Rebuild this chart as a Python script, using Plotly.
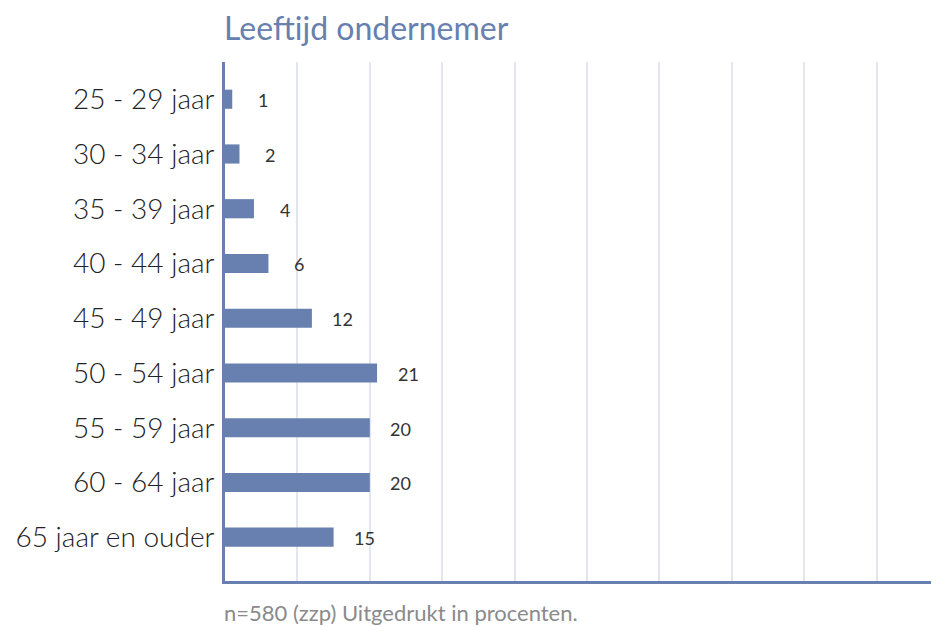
import plotly.graph_objects as go

# ── data ─────────────────────────────────────────────
leeftijd = [
    "25 - 29 jaar", "30 - 34 jaar", "35 - 39 jaar", "40 - 44 jaar",
    "45 - 49 jaar", "50 - 54 jaar", "55 - 59 jaar", "60 - 64 jaar",
    "65 jaar en ouder",
]
procent = [1, 2, 4, 6, 12, 21, 20, 20, 15]

blauw = "#6780b0"

fig = go.Figure(go.Bar(
    x=procent,
    y=leeftijd,
    orientation="h",
    width=0.35,
    marker=dict(color=blauw, line=dict(width=0)),
    hoverinfo="x+y",
))

# value labels next to the bars
for v, c in zip(procent, leeftijd):
    fig.add_annotation(
        x=v, y=c, text=str(v), showarrow=False,
        xanchor="center", xshift=31, yshift=-1,
        font=dict(family="Lato", size=18, color="#333333"),
    )

fig.add_annotation(
    text="Leeftijd ondernemer", xref="paper", yref="paper",
    x=0, y=1, yshift=35, xshift=-3, xanchor="left", yanchor="middle",
    showarrow=False,
    font=dict(family="Lato", size=32, color=blauw),
)
fig.add_annotation(
    text="n=580 (zzp) Uitgedrukt in procenten.", xref="paper", yref="paper",
    x=0, y=0, yshift=-31, xshift=-3, xanchor="left", yanchor="middle",
    showarrow=False,
    font=dict(family="Lato", size=22, color="#8a8a8a"),
)

# page body has an 8px margin, so the figure is a bit smaller than the window
fig.update_layout(
    width=931, height=619,
    margin=dict(l=217, r=0, t=54, b=46),
    paper_bgcolor="white", plot_bgcolor="white",
    showlegend=False,
    font=dict(family="Lato"),
    xaxis=dict(
        range=[0, 98.6], dtick=10, showticklabels=False, ticks="",
        showgrid=True, gridcolor="#e3e6ee", gridwidth=2,
        zeroline=False, showline=True, linecolor=blauw, linewidth=3,
        fixedrange=True,
    ),
    yaxis=dict(
        categoryorder="array", categoryarray=leeftijd,
        range=[8.8, -0.68], ticks="", ticklabelstandoff=2,
        tickfont=dict(family="Lato", size=28, color="#222222", weight=300),
        showgrid=False, zeroline=False,
        showline=True, linecolor=blauw, linewidth=3,
        fixedrange=True,
    ),
)

fig.write_html("out.html")
